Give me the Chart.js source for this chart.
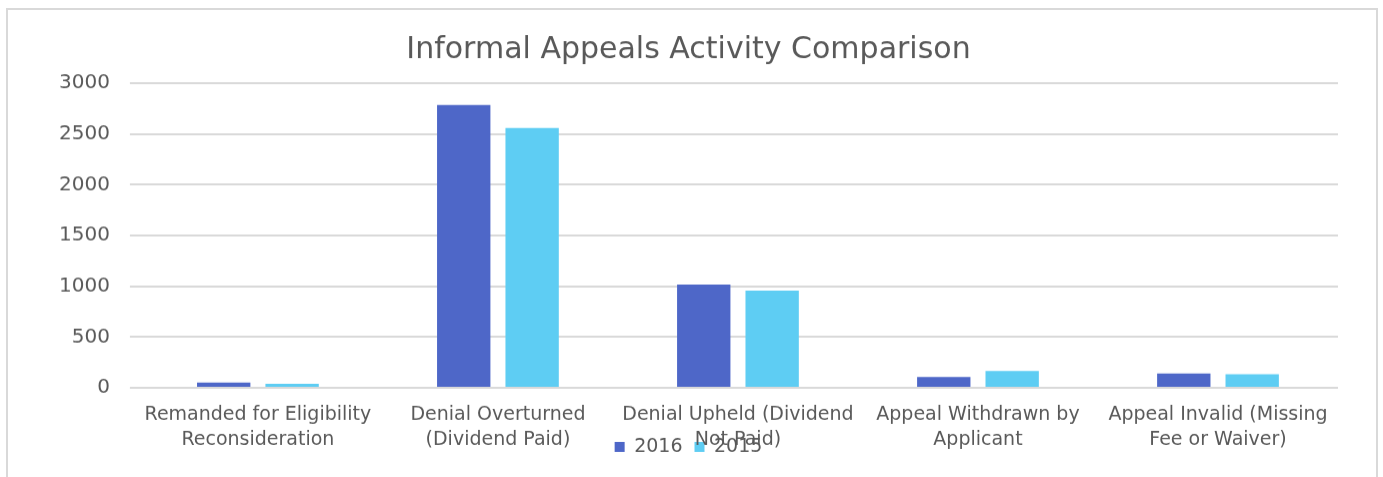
<!DOCTYPE html>
<html>
<head>
<meta charset="utf-8">
<script src="https://cdn.jsdelivr.net/npm/chart.js@4/dist/chart.umd.min.js"></script>
<style>
    html, body { margin: 0; padding: 0; background: #fff; overflow: hidden; }
    #frame {
        position: absolute; left: 6px; top: 8px; width: 1372px; height: 540px;
        border: 2px solid #d9d9d9; box-sizing: border-box;
    }
    #box { position: absolute; left: 0; top: 0; width: 1368px; height: 489.5px; }
</style>
</head>
<body>
<div id="frame"><div id="box"><canvas id="appealsChart"></canvas></div></div>
<script>
// Appeal outcome categories
const categories = [
    ['Remanded for Eligibility', 'Reconsideration'],
    ['Denial Overturned', '(Dividend Paid)'],
    ['Denial Upheld (Dividend', 'Not Paid)'],
    ['Appeal Withdrawn by', 'Applicant'],
    ['Appeal Invalid (Missing', 'Fee or Waiver)']
];
const values2016 = [54, 2785, 1017, 106, 142];
const values2015 = [41, 2559, 958, 165, 133];
const yTicks = [0, 500, 1000, 1500, 2000, 2500, 3000];

const textColor = '#595959';
const fontFamily = "'DejaVu Sans', sans-serif";

// legend sits on top of the x labels, like in the original
const legendShift = {
    id: 'legendShift',
    afterLayout(chart) {
        chart.legend.top -= 34;
        chart.legend.bottom -= 34;
    }
};

document.addEventListener('DOMContentLoaded', () => {
    const ctx = document.getElementById('appealsChart').getContext('2d');

    new Chart(ctx, {
        type: 'bar',
        data: {
            labels: categories,
            datasets: [
                {
                    label: '2016',
                    data: values2016,
                    backgroundColor: '#4e67c8',
                    categoryPercentage: 0.57,
                    barPercentage: 0.78
                },
                {
                    label: '2015',
                    data: values2015,
                    backgroundColor: '#5ecdf3',
                    categoryPercentage: 0.57,
                    barPercentage: 0.78
                }
            ]
        },
        plugins: [legendShift],
        options: {
            responsive: true,
            maintainAspectRatio: false,
            animation: false,
            layout: {
                padding: { left: 31, right: 38, top: 12, bottom: 0 }
            },
            plugins: {
                title: {
                    display: true,
                    text: 'Informal Appeals Activity Comparison',
                    color: textColor,
                    font: { family: fontFamily, size: 30, weight: 'normal' },
                    padding: { top: 10, bottom: 15 }
                },
                legend: {
                    position: 'bottom',
                    labels: {
                        color: textColor,
                        font: { family: fontFamily, size: 19 },
                        boxWidth: 10,
                        boxHeight: 10,
                        padding: 12
                    }
                },
                tooltip: { enabled: false }
            },
            scales: {
                x: {
                    grid: { display: false },
                    border: { display: false },
                    ticks: {
                        color: textColor,
                        font: { family: fontFamily, size: 19, lineHeight: 1.3 },
                        maxRotation: 0,
                        autoSkip: false,
                        padding: 7
                    }
                },
                y: {
                    min: 0,
                    max: 3000,
                    afterBuildTicks: scale => { scale.ticks = yTicks.map(v => ({ value: v })); },
                    grid: { color: '#d9d9d9', lineWidth: 2 },
                    border: { display: false },
                    ticks: {
                        color: textColor,
                        font: { family: fontFamily, size: 20 },
                        padding: 20,
                        callback: value => String(value)
                    }
                }
            }
        }
    });
});
</script>
</body>
</html>
